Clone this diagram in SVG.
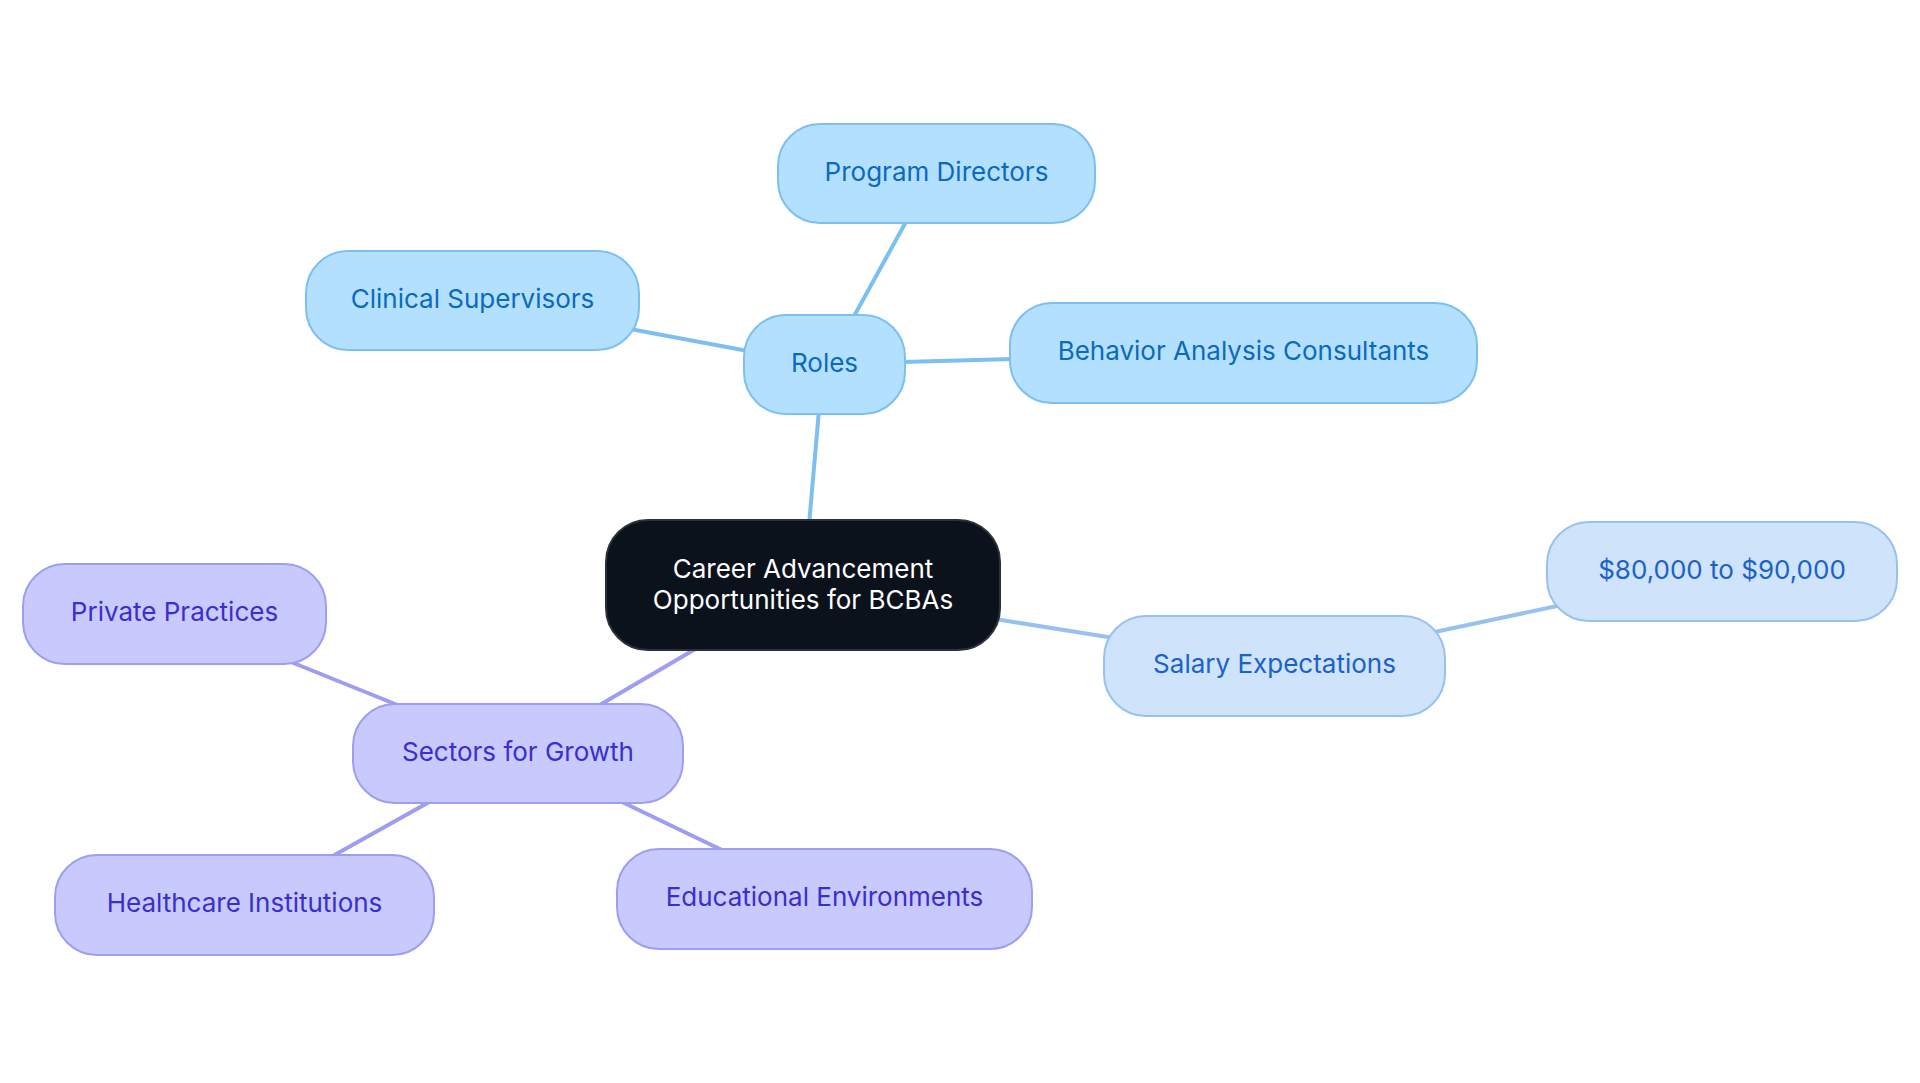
<svg xmlns="http://www.w3.org/2000/svg" width="1920" height="1083" viewBox="0 0 1920 1083">
<style>
text{font-family:Inter,"Noto Sans","Liberation Sans",sans-serif;font-size:26px;text-anchor:middle;}
.c{stroke-width:4;fill:none;stroke-linecap:round}
.cr{stroke:#7cbff0}
.cs{stroke:#97c2ef}
.cg{stroke:#9d9ef2}
.r rect{fill:#b4e0ff;stroke:#7cbff0;stroke-width:2}
.r text{fill:#0a6ac0}
.s rect{fill:#cfe3fb;stroke:#97c2ef;stroke-width:2}
.s text{fill:#1a62c8}
.g rect{fill:#c8c9fc;stroke:#9d9ef2;stroke-width:2}
.g text{fill:#3a2ecf}
</style>
<rect width="1920" height="1083" fill="#ffffff"/>
<g id="connectors">
<line class="c cr" x1="809" y1="525" x2="819" y2="410"/>
<line class="c cr" x1="853" y1="318" x2="907" y2="220"/>
<line class="c cr" x1="748" y1="351" x2="630" y2="329"/>
<line class="c cr" x1="902" y1="362" x2="1013" y2="359"/>
<line class="c cs" x1="995" y1="619" x2="1114" y2="638"/>
<line class="c cs" x1="1430" y1="633" x2="1562" y2="605"/>
<line class="c cg" x1="697" y1="648" x2="598" y2="706"/>
<line class="c cg" x1="400" y1="706" x2="291" y2="662"/>
<line class="c cg" x1="431" y1="801" x2="331" y2="857"/>
<line class="c cg" x1="620" y1="801" x2="724" y2="851"/>
</g>
<g id="root">
<rect x="606" y="520" width="394" height="130" rx="42" fill="#0c121c" stroke="#2b3039" stroke-width="2"/>
<text x="803" y="578" fill="#ffffff">Career Advancement</text>
<text x="803" y="609" fill="#ffffff">Opportunities for BCBAs</text>
</g>
<g id="roles" class="r">
<rect x="744" y="315" width="161" height="99" rx="42"/>
<text x="824.5" y="372">Roles</text>
</g>
<g id="program-directors" class="r">
<rect x="778" y="124" width="317" height="99" rx="42"/>
<text x="936.5" y="181">Program Directors</text>
</g>
<g id="clinical-supervisors" class="r">
<rect x="306" y="251" width="333" height="99" rx="42"/>
<text x="472.5" y="308">Clinical Supervisors</text>
</g>
<g id="behavior-analysis-consultants" class="r">
<rect x="1010" y="303" width="467" height="100" rx="42"/>
<text x="1243.5" y="360">Behavior Analysis Consultants</text>
</g>
<g id="salary-expectations" class="s">
<rect x="1104" y="616" width="341" height="100" rx="42"/>
<text x="1274.5" y="673">Salary Expectations</text>
</g>
<g id="salary-range" class="s">
<rect x="1547" y="522" width="350" height="99" rx="42"/>
<text x="1722" y="579">$80,000 to $90,000</text>
</g>
<g id="sectors-for-growth" class="g">
<rect x="353" y="704" width="330" height="99" rx="42"/>
<text x="518" y="761">Sectors for Growth</text>
</g>
<g id="private-practices" class="g">
<rect x="23" y="564" width="303" height="100" rx="42"/>
<text x="174.5" y="621">Private Practices</text>
</g>
<g id="healthcare-institutions" class="g">
<rect x="55" y="855" width="379" height="100" rx="42"/>
<text x="244.5" y="912">Healthcare Institutions</text>
</g>
<g id="educational-environments" class="g">
<rect x="617" y="849" width="415" height="100" rx="42"/>
<text x="824.5" y="906">Educational Environments</text>
</g>
</svg>
